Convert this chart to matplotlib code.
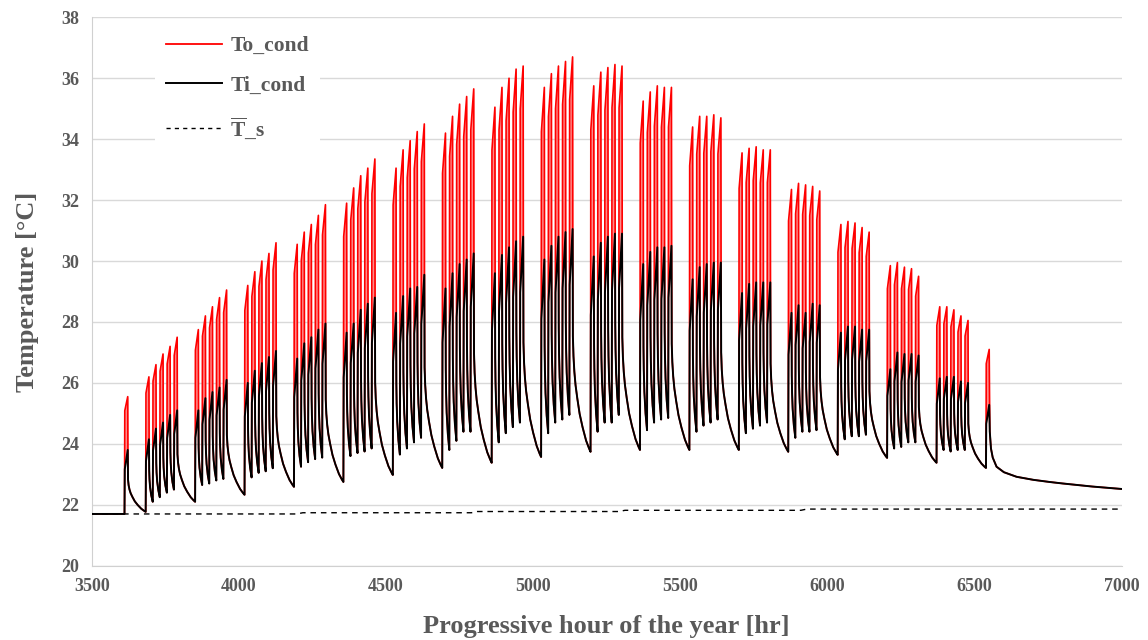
import matplotlib.pyplot as plt
from matplotlib.lines import Line2D

plt.rcParams['font.family'] = ['Liberation Serif', 'DejaVu Serif']
plt.rcParams['font.weight'] = 'bold'
plt.rcParams['mathtext.fontset'] = 'custom'
plt.rcParams['mathtext.rm'] = 'Liberation Serif:bold'
plt.rcParams['mathtext.bf'] = 'Liberation Serif:bold'

# Monday of each working week [hr]
week_start = [3683, 3851, 4019, 4187, 4355, 4523, 4691, 4859, 5027,
              5195, 5363, 5531, 5699, 5867, 6035, 6203, 6371]

# daily maximum of the conditioned outlet temperature, Mon..Fri
to_peak = [
    [26.2, 26.6, 26.95, 27.2, 27.5],
    [27.75, 28.2, 28.5, 28.8, 29.05],
    [29.2, 29.65, 30.0, 30.25, 30.6],
    [30.55, 30.95, 31.2, 31.5, 31.85],
    [31.9, 32.4, 32.8, 33.05, 33.35],
    [33.05, 33.65, 33.95, 34.25, 34.5],
    [34.2, 34.75, 35.15, 35.4, 35.65],
    [35.05, 35.7, 36.0, 36.3, 36.4],
    [35.7, 36.15, 36.4, 36.55, 36.7],
    [35.75, 36.2, 36.35, 36.45, 36.4],
    [35.25, 35.55, 35.75, 35.7, 35.7],
    [34.4, 34.75, 34.75, 34.8, 34.7],
    [33.55, 33.7, 33.75, 33.65, 33.65],
    [32.35, 32.55, 32.5, 32.45, 32.3],
    [31.2, 31.3, 31.25, 31.1, 30.95],
    [29.85, 29.95, 29.8, 29.75, 29.5],
    [28.5, 28.5, 28.4, 28.2, 28.05],
]

# daily maximum of the conditioned inlet temperature, Mon..Fri
ti_peak = [
    [24.15, 24.5, 24.7, 24.95, 25.1],
    [25.1, 25.5, 25.7, 25.85, 26.1],
    [26.0, 26.4, 26.65, 26.85, 27.05],
    [26.8, 27.3, 27.5, 27.75, 27.95],
    [27.65, 27.95, 28.4, 28.6, 28.8],
    [28.3, 28.85, 29.1, 29.15, 29.55],
    [29.1, 29.6, 29.9, 30.05, 30.25],
    [29.6, 30.2, 30.45, 30.65, 30.8],
    [30.05, 30.5, 30.8, 30.95, 31.05],
    [30.15, 30.6, 30.8, 30.9, 30.9],
    [29.9, 30.3, 30.45, 30.45, 30.5],
    [29.4, 29.8, 29.9, 29.95, 29.95],
    [28.95, 29.25, 29.3, 29.3, 29.3],
    [28.3, 28.55, 28.3, 28.6, 28.55],
    [27.65, 27.85, 27.85, 27.75, 27.75],
    [26.45, 27.0, 26.95, 26.95, 26.9],
    [26.15, 26.2, 26.2, 26.05, 26.0],
]

# minimum reached after the weekend, just before each Monday start
monday_min = [21.77, 22.10, 22.33, 22.59, 22.75, 22.98, 23.21, 23.38, 23.57,
              23.74, 23.80, 23.80, 23.80, 23.74, 23.64, 23.54, 23.38]

# overnight minima (Tue..Fri mornings)
night_min = [
    [22.1, 22.25, 22.4, 22.5],
    [22.65, 22.7, 22.8, 22.85],
    [22.9, 23.05, 23.1, 23.2],
    [23.25, 23.4, 23.5, 23.55],
    [23.6, 23.7, 23.75, 23.85],
    [23.65, 23.85, 24.05, 24.2],
    [23.8, 24.1, 24.4, 24.4],
    [24.05, 24.35, 24.55, 24.7],
    [24.35, 24.7, 24.8, 24.95],
    [24.4, 24.7, 24.7, 24.95],
    [24.45, 24.7, 24.8, 24.85],
    [24.4, 24.6, 24.7, 24.8],
    [24.35, 24.5, 24.6, 24.7],
    [24.2, 24.4, 24.4, 24.45],
    [24.15, 24.25, 24.25, 24.3],
    [23.85, 23.9, 24.05, 24.05],
    [23.8, 23.75, 23.8, 23.8],
]

# isolated operating days at the beginning and end of the season
base_temp = 21.7
first_day, first_to, first_ti = 3611, 25.55, 23.8
last_day, last_to, last_ti, last_min = 6539, 27.1, 25.28, 23.21

# free decay after the last operating day
tail_hours = [6552, 6556, 6562, 6575, 6600, 6643, 6700, 6755, 6800, 6868, 6900, 7000]
tail_temp = [24.4, 23.85, 23.55, 23.25, 23.07, 22.92, 22.82, 22.75, 22.7, 22.63, 22.6, 22.52]

# mean soil temperature
ts_hours = [3500, 4197, 4217, 4790, 4810, 5292, 5312, 5910, 5930, 7000]
ts_temp = [21.70, 21.70, 21.74, 21.74, 21.78, 21.78, 21.82, 21.82, 21.86, 21.86]

# decay profiles after a daily peak (hours after peak, remaining fraction)
night_after = [1, 2, 4, 8]
night_frac = [0.5, 0.36, 0.23, 0.1]
weekend_after = [1, 3, 6, 10, 16, 24, 34, 46, 56]
weekend_frac = [0.52, 0.43, 0.36, 0.3, 0.24, 0.17, 0.11, 0.05, 0.015]

hours, to_vals, ti_vals = [3500], [base_temp], [base_temp]
on_hours = 11


def add_day(start, t0, to_pk, ti_pk):
    hours.extend([start, start + 1, start + on_hours])
    to_vals.extend([t0, t0 + 0.88 * (to_pk - t0), to_pk])
    ti_vals.extend([t0, t0 + 0.7 * (ti_pk - t0), ti_pk])


def add_decay(start, ti_pk, t_next, after, frac):
    for a, f in zip(after, frac):
        v = t_next + f * (ti_pk - t_next)
        hours.append(start + on_hours + a)
        to_vals.append(v)
        ti_vals.append(v)


add_day(first_day, base_temp, first_to, first_ti)
add_decay(first_day, first_ti, monday_min[0], weekend_after, weekend_frac)

for w, monday in enumerate(week_start):
    for d in range(5):
        start = monday + 24 * d
        t0 = monday_min[w] if d == 0 else night_min[w][d - 1]
        add_day(start, t0, to_peak[w][d], ti_peak[w][d])
        if d < 4:
            add_decay(start, ti_peak[w][d], night_min[w][d], night_after, night_frac)
        else:
            t_next = monday_min[w + 1] if w + 1 < len(week_start) else last_min
            add_decay(start, ti_peak[w][d], t_next, weekend_after, weekend_frac)

add_day(last_day, last_min, last_to, last_ti)
hours.extend(tail_hours)
to_vals.extend(tail_temp)
ti_vals.extend(tail_temp)

grey = '#595959'
fig = plt.figure(figsize=(11.48, 6.4), dpi=100)
ax = fig.add_axes([0.080, 0.116, 0.897, 0.857])

ax.fill_between(hours, ti_vals, to_vals, color='#ff8a8a', lw=0, zorder=2)
ax.plot(hours, to_vals, color='#ff0000', lw=1.2, zorder=3)
ax.plot(hours, ti_vals, color='black', lw=1.4, zorder=4)
ax.plot(ts_hours, ts_temp, color='black', lw=1.0, ls=(0, (4, 3.5)), zorder=3)

ax.set_xlim(3500, 7000)
ax.set_ylim(20, 38)
ax.set_xticks(range(3500, 7001, 500))
ax.set_yticks(range(20, 39, 2))
ax.grid(axis='y', color='#d9d9d9', lw=1.0)
ax.set_axisbelow(True)
for side in ['top', 'right']:
    ax.spines[side].set_visible(False)
for side in ['left', 'bottom']:
    ax.spines[side].set_color('#d0d0d0')
ax.tick_params(length=0, labelsize=13, labelcolor=grey, pad=9)
for lab in ax.get_xticklabels() + ax.get_yticklabels():
    lab.set_fontweight('bold')

ax.set_xlabel('Progressive hour of the year [hr]', fontsize=19,
              fontweight='bold', color=grey, labelpad=14)
ax.set_ylabel('Temperature [°C]', fontsize=19, fontweight='bold',
              color=grey, labelpad=16)

handles = [Line2D([], [], color='#ff0000', lw=1.3),
           Line2D([], [], color='black', lw=1.4),
           Line2D([], [], color='black', lw=1.0, ls=(0, (3, 3)))]
labels = ['To_cond', 'Ti_cond', r'$\overline{\mathrm{T}}$_s']
leg = ax.legend(handles, labels, loc='upper left', bbox_to_anchor=(0.051, 1.005),
                frameon=True, facecolor='white', edgecolor='none', framealpha=1,
                fancybox=False, handlelength=2.6, handletextpad=0.4,
                labelspacing=0.9, borderpad=0.5,
                prop={'size': 15.5, 'weight': 'bold'})
for t in leg.get_texts():
    t.set_color(grey)
leg.set_zorder(5)

fig.savefig('out.png', dpi=100)
